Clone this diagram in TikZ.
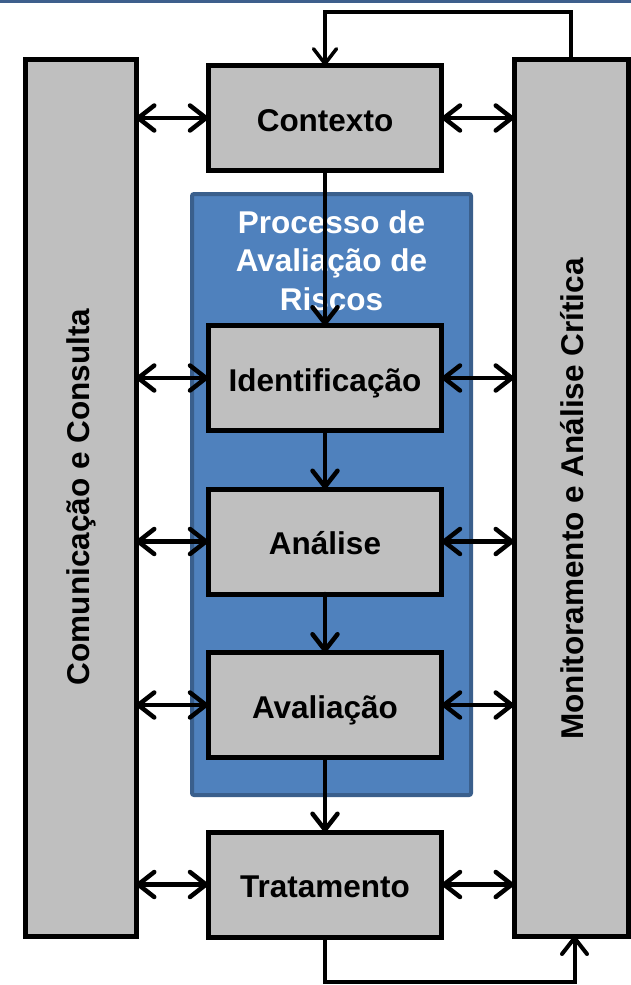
\documentclass[tikz,border=0pt]{standalone}
\usepackage{fontspec}
\setmainfont{Liberation Sans}
\usetikzlibrary{arrows.meta}
\definecolor{boxgray}{HTML}{BFBFBF}
\definecolor{procblue}{HTML}{4F81BD}
\definecolor{procedge}{HTML}{3A5F8C}
\definecolor{topbar}{HTML}{3E5F8C}
\begin{document}
\begin{tikzpicture}[x=1pt,y=-1pt,
  lbl/.style={font=\bfseries\fontsize{31.5}{38.5}\selectfont},
  stage/.style={lbl, draw=black, line width=5pt, fill=boxgray,
    minimum width=233.5pt, minimum height=105pt, inner sep=0pt, outer sep=0pt,
    text height=29pt, text depth=3pt},
  sidebox/.style={draw=black, line width=5pt, fill=boxgray,
    minimum width=111pt, minimum height=877pt, inner sep=0pt, outer sep=0pt},
  sidetext/.style={lbl, rotate=90, inner sep=0pt},
  head/.tip={Straight Barb[length=16pt,width=25pt,round]},
  barb/.style={line width=4.5pt, line cap=round, arrows={-head}},
  dblbarb/.style={line width=4.5pt, arrows={head-head}},
  loopline/.style={line width=3.5pt,
    arrows={-Straight Barb[length=15pt,width=23pt,round]}}
]
\useasboundingbox (0,0) rectangle (631,985);
% header rule
\fill[topbar] (0,0) rectangle (631,3);

% risk assessment container
\node[draw=procedge, line width=4pt, fill=procblue, rounded corners=2pt,
  minimum width=279pt, minimum height=601pt, inner sep=0pt, outer sep=0pt]
  (proc) at (331.5,494.5) {};
\node[lbl, text=white, align=center, anchor=north, inner sep=0pt]
  (proctitle) at (331.5,210) {Processo de\\Avaliação de\\Riscos};

% side columns
\node[sidebox] (comm) at (80.5,497.5) {};
\node[sidetext] (commtext) at (81,497) {Comunicação e Consulta};
\node[sidebox, minimum width=114pt] (mon) at (571,497.5) {};
\node[sidetext] (montext) at (572,499) {Monitoramento e Análise Crítica};

% process stages
\node[stage] (ctx) at (325,118) {Contexto};
\node[stage] (ide) at (325,378) {Identificação};
\node[stage] (ana) at (325,541.5) {Análise};
\node[stage] (ava) at (325,705) {Avaliação};
\node[stage] (trt) at (325,884.5) {Tratamento};

% flow between stages
\draw[barb] (ctx.south) -- (ide.north);
\draw[barb] (ide.south) -- (ana.north);
\draw[barb] (ana.south) -- (ava.north);
\draw[barb] (ava.south) -- (trt.north);

% two-way links to the side columns
\foreach \s in {ctx,ide,ana,ava,trt}{
  \draw[dblbarb] (comm.east |- \s.west) -- (\s.west);
  \draw[dblbarb] (\s.east) -- (mon.west |- \s.east);
}

% feedback loops
\coordinate (looptop) at (325,12);
\draw[loopline] (mon.north) |- (looptop) -- (ctx.north);
\coordinate (loopbot) at (574.5,982);
\coordinate (monin) at (574.5,936);
\draw[barb, line width=4pt, line cap=butt] (trt.south) |- (loopbot) -- (monin);
\end{tikzpicture}
\end{document}
